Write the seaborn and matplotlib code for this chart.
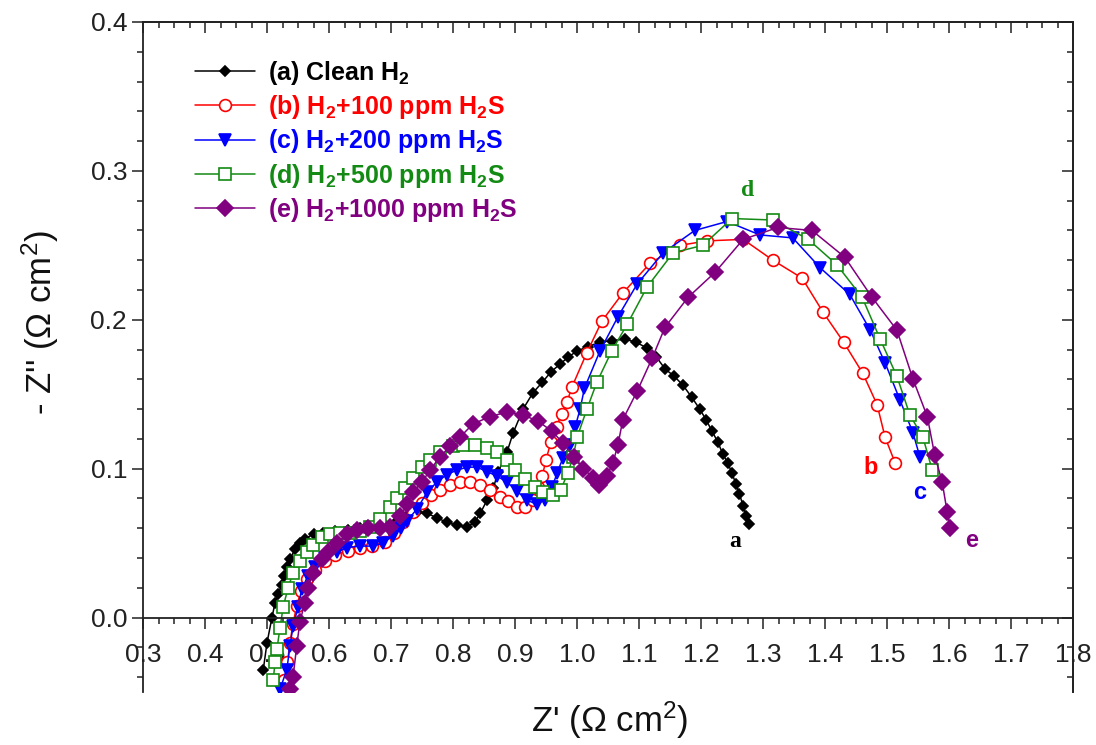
import matplotlib
matplotlib.use("Agg")
import matplotlib.pyplot as plt
import seaborn as sns
from matplotlib.ticker import MultipleLocator, FormatStrFormatter

# ---------------- data ----------------
a_x = [0.494, 0.500, 0.508, 0.513, 0.518, 0.524, 0.528, 0.532, 0.537, 0.545, 0.553, 0.561,
       0.575, 0.590, 0.610, 0.630, 0.650, 0.670, 0.690, 0.710, 0.728, 0.742, 0.758, 0.774,
       0.790, 0.806, 0.823, 0.835, 0.844, 0.855, 0.865, 0.873, 0.887, 0.897, 0.913, 0.929,
       0.944, 0.958, 0.972, 0.986, 1.000, 1.018, 1.037, 1.057, 1.077, 1.095, 1.113, 1.128,
       1.142, 1.157, 1.171, 1.185, 1.198, 1.208, 1.218, 1.227, 1.235, 1.243, 1.250, 1.256,
       1.262, 1.268, 1.273, 1.277]
a_y = [-0.035, -0.017, 0.000, 0.010, 0.016, 0.022, 0.028, 0.034, 0.039, 0.046, 0.050, 0.053,
       0.056, 0.057, 0.058, 0.059, 0.060, 0.061, 0.062, 0.065, 0.069, 0.071, 0.070, 0.067,
       0.064, 0.062, 0.061, 0.064, 0.070, 0.079, 0.087, 0.098, 0.111, 0.124, 0.140, 0.151,
       0.158, 0.165, 0.170, 0.175, 0.179, 0.182, 0.185, 0.186, 0.187, 0.185, 0.181, 0.175,
       0.167, 0.162, 0.156, 0.148, 0.140, 0.133, 0.125, 0.118, 0.110, 0.104, 0.097, 0.090,
       0.083, 0.075, 0.068, 0.063]

b_x = [0.528, 0.533, 0.537, 0.542, 0.548, 0.555, 0.565, 0.577, 0.593, 0.610, 0.630, 0.650,
       0.670, 0.690, 0.705, 0.720, 0.735, 0.750, 0.765, 0.779, 0.795, 0.811, 0.827, 0.844,
       0.860, 0.876, 0.889, 0.903, 0.916, 0.929, 0.937, 0.944, 0.950, 0.958, 0.967, 0.975,
       0.984, 0.992, 1.016, 1.040, 1.074, 1.118, 1.166, 1.210, 1.268, 1.316, 1.363, 1.397,
       1.430, 1.461, 1.484, 1.497, 1.513]
b_y = [-0.042, -0.030, -0.017, -0.004, 0.008, 0.018, 0.026, 0.032, 0.038, 0.042, 0.045, 0.047,
       0.048, 0.051, 0.057, 0.064, 0.071, 0.077, 0.082, 0.086, 0.089, 0.091, 0.091, 0.089,
       0.086, 0.081, 0.078, 0.074, 0.074, 0.079, 0.088, 0.095, 0.106, 0.118, 0.128, 0.137,
       0.145, 0.155, 0.178, 0.199, 0.218, 0.238, 0.250, 0.253, 0.254, 0.240, 0.228, 0.205,
       0.185, 0.164, 0.143, 0.121, 0.104]

c_x = [0.521, 0.532, 0.537, 0.542, 0.550, 0.556, 0.566, 0.577, 0.594, 0.613, 0.629, 0.650,
       0.671, 0.687, 0.703, 0.716, 0.726, 0.742, 0.758, 0.774, 0.790, 0.806, 0.823, 0.839,
       0.855, 0.871, 0.887, 0.903, 0.919, 0.935, 0.948, 0.960, 0.968, 0.977, 0.989, 0.997,
       1.005, 1.012, 1.037, 1.066, 1.097, 1.139, 1.190, 1.242, 1.295, 1.348, 1.392, 1.440,
       1.473, 1.497, 1.521, 1.542, 1.553]
c_y = [-0.048, -0.035, -0.019, -0.006, 0.007, 0.019, 0.028, 0.034, 0.040, 0.044, 0.047, 0.048,
       0.048, 0.050, 0.055, 0.060, 0.065, 0.073, 0.084, 0.091, 0.096, 0.099, 0.101, 0.101,
       0.098, 0.095, 0.091, 0.085, 0.079, 0.076, 0.079, 0.088, 0.097, 0.107, 0.116, 0.128,
       0.140, 0.154, 0.179, 0.202, 0.224, 0.245, 0.260, 0.266, 0.257, 0.255, 0.235, 0.217,
       0.193, 0.171, 0.146, 0.124, 0.108]

d_x = [0.510, 0.513, 0.516, 0.521, 0.526, 0.534, 0.542, 0.553, 0.565, 0.574, 0.589, 0.602,
       0.618, 0.634, 0.650, 0.666, 0.682, 0.698, 0.710, 0.723, 0.735, 0.750, 0.763, 0.779,
       0.800, 0.816, 0.835, 0.855, 0.871, 0.887, 0.900, 0.916, 0.932, 0.945, 0.961, 0.974,
       0.985, 0.994, 1.000, 1.016, 1.032, 1.056, 1.081, 1.113, 1.155, 1.203, 1.250, 1.316,
       1.373, 1.419, 1.460, 1.489, 1.516, 1.537, 1.558, 1.573]
d_y = [-0.042, -0.030, -0.021, -0.007, 0.007, 0.020, 0.030, 0.038, 0.044, 0.049, 0.054, 0.056,
       0.057, 0.057, 0.058, 0.061, 0.066, 0.074, 0.080, 0.087, 0.094, 0.101, 0.106, 0.111,
       0.115, 0.116, 0.116, 0.114, 0.111, 0.106, 0.099, 0.093, 0.088, 0.084, 0.082, 0.086,
       0.097, 0.108, 0.121, 0.140, 0.158, 0.179, 0.197, 0.222, 0.245, 0.250, 0.268, 0.267,
       0.254, 0.237, 0.215, 0.187, 0.162, 0.136, 0.121, 0.099]

e_x = [0.537, 0.542, 0.548, 0.553, 0.561, 0.566, 0.574, 0.589, 0.598, 0.613, 0.629, 0.645,
       0.663, 0.682, 0.698, 0.715, 0.726, 0.735, 0.750, 0.763, 0.779, 0.795, 0.811, 0.832,
       0.860, 0.887, 0.913, 0.937, 0.960, 0.978, 0.995, 1.010, 1.026, 1.036, 1.048, 1.058,
       1.066, 1.074, 1.097, 1.121, 1.142, 1.179, 1.223, 1.268, 1.324, 1.379, 1.432, 1.476,
       1.516, 1.542, 1.565, 1.577, 1.589, 1.597, 1.602]
e_y = [-0.048, -0.040, -0.019, -0.003, 0.010, 0.020, 0.030, 0.039, 0.044, 0.050, 0.056, 0.059,
       0.060, 0.060, 0.061, 0.068, 0.076, 0.084, 0.091, 0.099, 0.108, 0.115, 0.121, 0.130,
       0.135, 0.138, 0.136, 0.132, 0.125, 0.117, 0.108, 0.100, 0.094, 0.089, 0.095, 0.104,
       0.116, 0.133, 0.152, 0.174, 0.195, 0.215, 0.232, 0.254, 0.262, 0.260, 0.242, 0.215,
       0.193, 0.160, 0.135, 0.109, 0.091, 0.071, 0.060]

labels = [r"(a) Clean H$_\mathbf{2}$",
          r"(b) H$_\mathbf{2}$+100 ppm H$_\mathbf{2}$S",
          r"(c) H$_\mathbf{2}$+200 ppm H$_\mathbf{2}$S",
          r"(d) H$_\mathbf{2}$+500 ppm H$_\mathbf{2}$S",
          r"(e) H$_\mathbf{2}$+1000 ppm H$_\mathbf{2}$S"]
curve_tags = ["a", "b", "c", "d", "e"]
tag_x = [1.255, 1.473, 1.552, 1.276, 1.637]
tag_y = [0.051, 0.101, 0.084, 0.287, 0.052]

# ---------------- style ----------------
sns.set_theme(style="white")
plt.rcParams["font.family"] = ["Liberation Sans", "DejaVu Sans"]
plt.rcParams["mathtext.fontset"] = "custom"
plt.rcParams["mathtext.rm"] = "Liberation Sans"
plt.rcParams["mathtext.it"] = "Liberation Sans:italic"
plt.rcParams["mathtext.bf"] = "Liberation Sans:bold"

colors = ["#000000", "#ff0000", "#0000ff", "#138a13", "#800080"]
markers = ["D", "o", "v", "s", "D"]
msizes = [5.0, 8.5, 8.5, 8.5, 8.5]
faces = ["#000000", "white", "#0000ff", "white", "#800080"]
tag_fonts = ["Liberation Serif", "Liberation Sans", "Liberation Sans", "Liberation Serif", "Liberation Sans"]

fig = plt.figure(figsize=(10.96, 7.45), dpi=100)
ax = fig.add_axes([143 / 1096, 1 - 692 / 745, 930 / 1096, 670 / 745])

xs_all = [a_x, b_x, c_x, d_x, e_x]
ys_all = [a_y, b_y, c_y, d_y, e_y]
for i in range(5):
    sns.lineplot(x=xs_all[i], y=ys_all[i], ax=ax, sort=False, estimator=None,
                 color=colors[i], marker=markers[i], markersize=msizes[i],
                 markerfacecolor=faces[i], markeredgecolor=colors[i],
                 markeredgewidth=1.2, linewidth=1.1, label=labels[i])

ax.set_xlim(0.3, 1.8)
ax.set_ylim(-0.05, 0.4)
ax.xaxis.set_major_locator(MultipleLocator(0.1))
ax.xaxis.set_minor_locator(MultipleLocator(0.025))
ax.yaxis.set_major_locator(MultipleLocator(0.1))
ax.yaxis.set_minor_locator(MultipleLocator(0.02))
ax.xaxis.set_major_formatter(FormatStrFormatter("%.1f"))
ax.yaxis.set_major_formatter(FormatStrFormatter("%.1f"))

for s in ax.spines.values():
    s.set_color("#222222")
    s.set_linewidth(1.3)
ax.spines["bottom"].set_position(("data", 0))

ax.tick_params(axis="both", which="both", direction="out", bottom=True, left=True,
               top=False, right=False, colors="#222222", labelcolor="#222222",
               labelsize=19, width=1.1)
ax.tick_params(axis="both", which="major", length=8)
ax.tick_params(axis="both", which="minor", length=4)
ax.tick_params(axis="x", which="major", pad=10)

top = ax.secondary_xaxis("top")
top.xaxis.set_major_locator(MultipleLocator(0.1))
top.xaxis.set_minor_locator(MultipleLocator(0.025))
top.tick_params(axis="x", which="both", direction="in", labeltop=False, width=1.1, colors="#222222")
top.tick_params(axis="x", which="major", length=8)
top.tick_params(axis="x", which="minor", length=4)
top.spines["top"].set_linewidth(1.3)

right = ax.secondary_yaxis("right")
right.yaxis.set_major_locator(MultipleLocator(0.1))
right.yaxis.set_minor_locator(MultipleLocator(0.02))
right.tick_params(axis="y", which="both", direction="in", labelright=False, width=1.1, colors="#222222")
right.tick_params(axis="y", which="major", length=8)
right.tick_params(axis="y", which="minor", length=4)
right.spines["right"].set_linewidth(1.3)

ax.set_xlabel("")
ax.set_ylabel("")
fig.text(610 / 1096, 1 - 720 / 745, "Z' (Ω cm$^2$)", fontsize=25, ha="center", va="center",
         color="#111111")
fig.text(40 / 1096, 1 - 322 / 745, "- Z'' (Ω cm$^2$)", fontsize=25, ha="center", va="center",
         rotation=90, color="#111111")

for i in range(5):
    ax.text(tag_x[i], tag_y[i], curve_tags[i], color=colors[i], fontsize=17,
            fontweight="bold", family=tag_fonts[i], ha="center", va="center")

leg = ax.legend(loc="upper left", bbox_to_anchor=(0.056, 0.945), frameon=False,
                prop={"weight": "bold", "size": 18}, labelcolor="linecolor",
                handlelength=2.4, handletextpad=0.5, labelspacing=0.25,
                borderaxespad=0, borderpad=0)

fig.savefig("out.png", dpi=100)
